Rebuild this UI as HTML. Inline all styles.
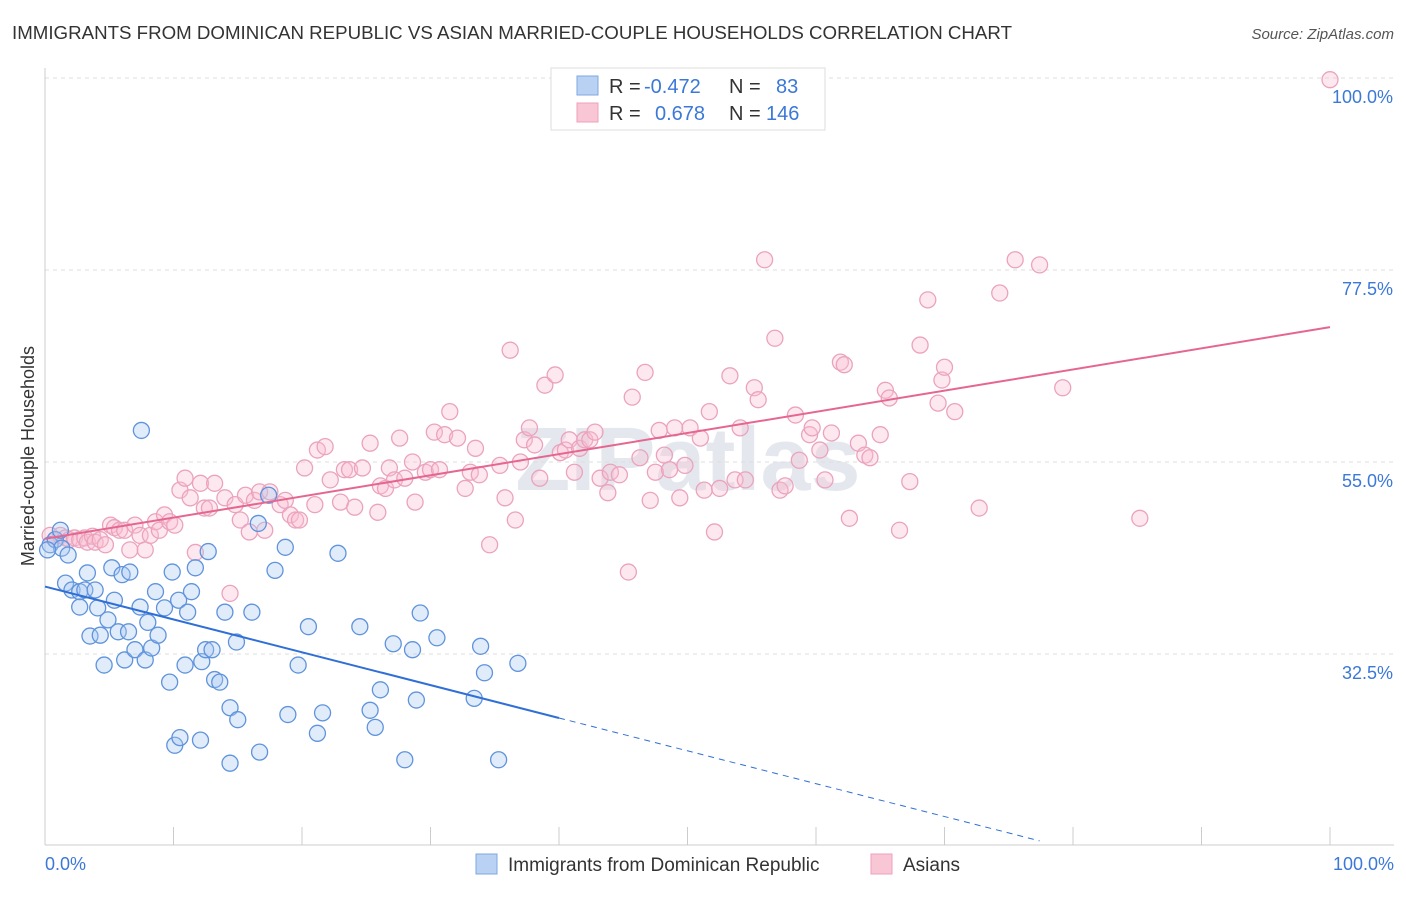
<!DOCTYPE html>
<html><head><meta charset="utf-8"><style>
body{margin:0;background:#fff;font-family:"Liberation Sans",sans-serif;}
svg text{font-family:"Liberation Sans",sans-serif;}
</style></head><body>
<svg id="chart" width="1406" height="892" xmlns="http://www.w3.org/2000/svg">
<text x="12" y="39" font-size="18.5" fill="#333" textLength="1000" lengthAdjust="spacingAndGlyphs">IMMIGRANTS FROM DOMINICAN REPUBLIC VS ASIAN MARRIED-COUPLE HOUSEHOLDS CORRELATION CHART</text>
<text x="1394" y="39" font-size="15" fill="#555" text-anchor="end" font-style="italic">Source: ZipAtlas.com</text>
<text x="688" y="490" font-size="90" font-weight="bold" fill="#e4e8ee" text-anchor="middle">ZIPatlas</text>
<g id="grid"></g>
<g id="axes"></g>
<g id="marks"></g>
<text transform="translate(34,456) rotate(-90)" font-size="18" fill="#333" text-anchor="middle">Married-couple Households</text>
<text x="45" y="870" font-size="18" fill="#3b78d8">0.0%</text>
<text x="1394" y="870" font-size="18" fill="#3b78d8" text-anchor="end">100.0%</text>
<g>
<rect x="551" y="68" width="274" height="62" fill="#fff" stroke="#ddd"/>
<rect x="577" y="76" width="21" height="19" fill="#b9d1f3" stroke="#7ea7e0"/>
<rect x="577" y="103" width="21" height="19" fill="#f9c6d5" stroke="#eda0ba"/>
<text x="609" y="93" font-size="20" fill="#333">R = </text><text x="644" y="93" font-size="20" fill="#3b78d8">-0.472</text>
<text x="729" y="93" font-size="20" fill="#333">N = </text><text x="776" y="93" font-size="20" fill="#3b78d8">83</text>
<text x="609" y="120" font-size="20" fill="#333">R = </text><text x="655" y="120" font-size="20" fill="#3b78d8">0.678</text>
<text x="729" y="120" font-size="20" fill="#333">N = </text><text x="766" y="120" font-size="20" fill="#3b78d8">146</text>
</g>
<g>
<rect x="476" y="854" width="21" height="20" fill="#b9d1f3" stroke="#7ea7e0"/>
<text x="508" y="871" font-size="19" fill="#333">Immigrants from Dominican Republic</text>
<rect x="871" y="854" width="21" height="20" fill="#f9c6d5" stroke="#eda0ba"/>
<text x="903" y="871" font-size="19" fill="#333">Asians</text>
</g>
</svg>
<script>
const yTicks=[32.5,55.0,77.5,100.0];
const yTickLabels=["32.5%","55.0%","77.5%","100.0%"];
const xTicks=[0,10,20,30,40,50,60,70,80,90,100];
const blueX=[0.4,0.8,1.2,1.3,1.8,0.2,1.6,2.1,2.7,3.1,3.3,3.9,2.7,3.5,4.1,4.3,4.6,4.9,5.2,5.4,5.7,6.0,6.2,6.5,6.6,7.0,7.4,7.5,7.8,8.0,8.3,8.6,8.8,9.3,9.7,9.9,10.1,10.5,10.4,10.9,11.1,11.4,11.7,12.1,12.2,12.5,12.7,13.0,13.2,13.6,14.0,14.4,14.4,15.0,14.9,16.1,16.7,16.6,17.4,17.9,18.7,18.9,19.7,20.5,21.2,21.6,22.8,24.5,25.3,25.7,26.1,27.1,28.0,28.6,28.9,29.2,30.5,33.4,33.9,34.2,35.3,36.8];
const blueY=[45.3,45.9,47.0,44.9,44.1,44.7,40.8,40.0,39.8,40.0,42.0,40.0,38.0,34.6,37.9,34.7,31.2,36.5,42.6,38.8,35.1,41.8,31.8,35.1,42.1,33.0,38.0,58.7,31.8,36.2,33.2,39.8,34.7,37.9,29.2,42.1,21.8,22.7,38.8,31.2,37.4,39.8,42.6,22.4,31.6,33.0,44.5,33.0,29.5,29.2,37.4,26.2,19.7,24.8,33.9,37.4,21.0,47.8,51.1,42.3,45.0,25.4,31.2,35.7,23.2,25.6,44.3,35.7,25.9,23.9,28.3,33.7,20.1,33.0,27.1,37.3,34.4,27.3,33.4,30.3,20.1,31.4];
const pinkX=[0.4,0.8,1.2,1.6,1.9,2.3,2.7,3.1,3.3,3.7,3.9,4.3,4.7,5.1,5.4,5.8,6.2,6.6,7.0,7.4,7.8,8.2,8.6,8.9,9.3,9.7,10.1,10.5,10.9,11.3,11.7,12.1,12.4,12.8,13.2,14.0,14.4,14.8,15.2,15.6,15.9,16.3,16.7,17.1,17.5,18.3,18.7,19.1,19.5,19.8,20.2,21.0,21.2,21.8,22.2,23.0,23.3,23.7,24.1,24.7,25.3,25.9,26.1,26.5,26.8,27.2,27.6,28.0,28.6,28.8,29.6,30.0,30.3,30.7,31.1,31.5,32.1,32.7,33.1,33.5,33.8,34.6,35.4,35.8,36.2,36.6,37.0,37.3,37.7,38.1,38.5,38.9,39.7,40.1,40.5,40.8,41.2,41.6,42.0,42.4,42.8,43.2,43.8,44.0,44.7,45.4,45.7,46.3,46.7,47.1,47.5,47.8,48.2,48.6,49.0,49.4,49.8,50.2,51.0,51.3,51.7,52.1,52.5,53.3,53.7,54.1,54.5,55.2,55.5,56.0,56.8,57.2,57.6,58.4,58.7,59.5,59.7,60.3,60.7,61.2,61.9,62.2,62.6,63.3,63.8,64.2,65.0,65.4,65.7,66.5,67.3,68.1,68.7,69.5,69.8,70.0,70.8,72.7,74.3,75.5,77.4,79.2,85.2,100];
const pinkY=[46.4,45.9,46.4,46.1,45.9,46.1,45.9,46.1,45.6,46.3,45.6,45.9,45.3,47.6,47.3,47.0,47.0,44.7,47.6,46.4,44.7,46.4,48.0,47.0,48.8,48.0,47.6,51.7,53.1,50.8,44.4,52.5,49.6,49.6,52.5,50.8,39.6,50.0,48.2,51.1,46.8,50.5,51.5,47.0,51.5,50.0,50.5,48.8,48.2,48.2,54.3,50.0,56.4,56.8,52.9,50.3,54.1,54.1,49.7,54.3,57.2,49.1,52.2,51.9,54.3,52.9,57.8,53.1,55.0,50.3,53.8,54.1,58.5,54.1,58.2,60.9,57.8,51.9,53.8,56.6,53.5,45.3,54.6,50.8,68.1,48.2,55.0,57.6,59.0,57.0,53.1,64.0,65.2,56.1,56.4,57.6,53.8,56.6,57.6,57.6,58.5,53.1,51.4,53.8,53.5,42.1,62.6,55.5,65.5,50.5,53.8,58.7,55.8,54.1,59.0,50.8,54.6,59.0,57.8,51.7,60.9,46.8,51.9,65.1,52.9,59.0,52.9,63.7,62.3,78.7,69.5,51.7,52.2,60.5,55.2,58.2,59.0,56.4,52.9,58.4,66.7,66.4,48.4,57.2,55.8,55.5,58.2,63.4,62.5,47.0,52.7,68.7,74.0,61.9,64.6,66.1,60.9,49.6,74.8,78.7,78.1,63.7,48.4,99.8];
const blueTrend=[40.4,-0.385];
const pinkTrend=[46.0,0.248];
const NS='http://www.w3.org/2000/svg';
const X0=45,X1=1330,YTOP=78,PXPER=8.533;
function xs(v){return X0+(X1-X0)*v/100;}
function ys(v){return YTOP+(100-v)*PXPER;}
function mk(tag,attrs,parent){const e=document.createElementNS(NS,tag);for(const k in attrs)e.setAttribute(k,attrs[k]);parent.appendChild(e);return e;}
const grid=document.getElementById('grid'),axes=document.getElementById('axes'),marks=document.getElementById('marks');
yTicks.forEach((t,i)=>{
 const l=mk('line',{x1:45,x2:1394,y1:ys(t),y2:ys(t),stroke:'#ddd','stroke-dasharray':'4,4'},grid);
 
 
 const tx=mk('text',{x:1393,y:ys(t)+25,'font-size':18,fill:'#3b78d8','text-anchor':'end'},grid);
 tx.textContent=yTickLabels[i];
 
 
});
const ax=mk('line',{x1:45,x2:1394,y1:845,y2:845,stroke:'#ccc'},axes);


const ay=mk('line',{x1:45,x2:45,y1:68,y2:845,stroke:'#ccc'},axes);


xTicks.forEach(t=>{
 const l=mk('line',{x1:xs(t),x2:xs(t),y1:827,y2:845,stroke:'#ccc'},axes);
 
 
});
pinkX.forEach((x,i)=>{
 const c=mk('circle',{cx:xs(x),cy:ys(pinkY[i]),r:8,fill:'rgba(248,190,208,0.35)',stroke:'#eba3bd','stroke-width':1.3},marks);
 
 
});
blueX.forEach((x,i)=>{
 const c=mk('circle',{cx:xs(x),cy:ys(blueY[i]),r:8,fill:'rgba(170,200,240,0.35)',stroke:'#5f93dc','stroke-width':1.3},marks);
 
 
});
const bEnd=40,bDash=77.4;
const bl=mk('line',{x1:xs(0),y1:ys(blueTrend[0]),x2:xs(bEnd),y2:ys(blueTrend[0]+blueTrend[1]*bEnd),stroke:'#2f6fd6','stroke-width':2},marks);


const bd=mk('line',{x1:xs(bEnd),y1:ys(blueTrend[0]+blueTrend[1]*bEnd),x2:xs(bDash),y2:ys(blueTrend[0]+blueTrend[1]*bDash),stroke:'#2f6fd6','stroke-width':1,'stroke-dasharray':'6,5'},marks);


const pl=mk('line',{x1:xs(0),y1:ys(pinkTrend[0]),x2:xs(100),y2:ys(pinkTrend[0]+pinkTrend[1]*100),stroke:'#e5668f','stroke-width':2},marks);


</script>
</body></html>
